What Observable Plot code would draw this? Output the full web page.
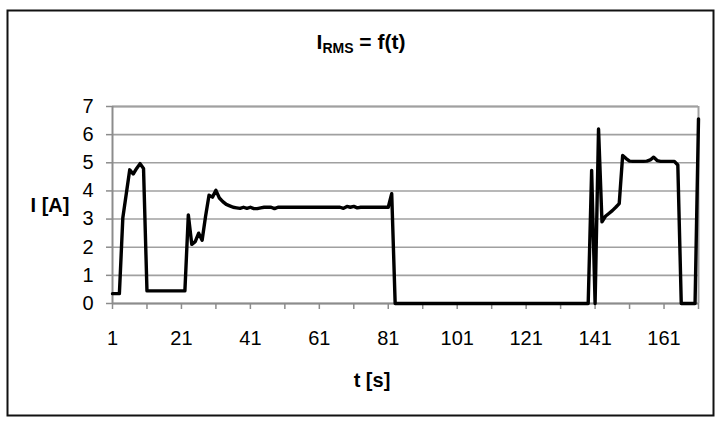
<!DOCTYPE html>
<html>
<head>
<meta charset="utf-8">
<script src="https://cdn.jsdelivr.net/npm/d3@7"></script>
<script src="https://cdn.jsdelivr.net/npm/@observablehq/plot@0.6"></script>
<style>
  html, body { margin: 0; padding: 0; background: #fff; }
  svg { display: block; }
</style>
</head>
<body>
<div id="chart"></div>
<script>
// RMS current I [A] for each sample t = 1 .. 171 s
const current = [
  0.35, 0.35, 0.35, 3.05, 3.9, 4.75, 4.6, 4.8, 4.97, 4.8,
  0.45, 0.45, 0.45, 0.45, 0.45, 0.45, 0.45, 0.45, 0.45, 0.45, 0.45, 0.45,
  3.15, 2.1, 2.2, 2.5, 2.25, 3.1, 3.85, 3.78, 4.02, 3.75, 3.62, 3.52, 3.47, 3.42,
  3.4, 3.38, 3.42, 3.38, 3.42, 3.37, 3.37, 3.4, 3.42, 3.42, 3.42, 3.37,
  3.42, 3.42, 3.42, 3.42, 3.42, 3.42, 3.42, 3.42, 3.42, 3.42,
  3.42, 3.42, 3.42, 3.42, 3.42, 3.42, 3.42, 3.42, 3.42,
  3.38, 3.45, 3.42, 3.45, 3.4,
  3.42, 3.42, 3.42, 3.42, 3.42, 3.42, 3.42, 3.42, 3.42,
  3.9,
  0, 0, 0, 0, 0, 0, 0, 0, 0, 0,
  0, 0, 0, 0, 0, 0, 0, 0, 0, 0,
  0, 0, 0, 0, 0, 0, 0, 0, 0, 0,
  0, 0, 0, 0, 0, 0, 0, 0, 0, 0,
  0, 0, 0, 0, 0, 0, 0, 0, 0, 0,
  0, 0, 0, 0, 0, 0, 0,
  4.73, 0, 6.2, 2.9, 3.1, 3.2, 3.3, 3.42, 3.55,
  5.26, 5.15, 5.06, 5.05, 5.05, 5.05, 5.05, 5.06, 5.1, 5.2, 5.08,
  5.05, 5.05, 5.05, 5.05, 5.05, 4.92,
  0, 0, 0, 0, 0,
  6.56
];
const firstT = 1;
const xTicks = [1, 11, 21, 31, 41, 51, 61, 71, 81, 91, 101, 111, 121, 131, 141, 151, 161, 171];
const xLabels = [1, 21, 41, 61, 81, 101, 121, 141, 161];
const yTicks = [0, 1, 2, 3, 4, 5, 6, 7];
const titleMain = "I";
const titleSub = "RMS";
const titleRest = " = f(t)";
const xTitle = "t [s]";
const yTitle = "I [A]";

const data = current.map((v, i) => ({t: firstT + i, v}));

const W = 721, H = 425;
const chart = Plot.plot({
  width: W,
  height: H,
  marginLeft: 112,
  marginRight: 23,
  marginTop: 106,
  marginBottom: 122,
  x: {domain: [xTicks[0], xTicks[xTicks.length - 1]]},
  y: {domain: [yTicks[0], yTicks[yTicks.length - 1]]},
  style: {fontFamily: "'Liberation Sans', Arial, sans-serif", fontSize: "20px", color: "#000", background: "#fff", overflow: "visible"},
  marks: [
    Plot.gridY(yTicks, {stroke: "#a0a0a0", strokeOpacity: 1, strokeWidth: 1.6}),
    Plot.ruleX([xTicks[xTicks.length - 1]], {stroke: "#a0a0a0", strokeWidth: 2}),
    Plot.ruleY([yTicks[yTicks.length - 1]], {stroke: "#a0a0a0", strokeWidth: 2}),
    Plot.axisY(yTicks, {tickSize: 6, tickPadding: 13, stroke: "#8c8c8c", strokeWidth: 1.5, fill: "#000", fontSize: 20, label: null}),
    Plot.axisX(xTicks, {tickSize: 6, tickPadding: 21, stroke: "#8c8c8c", strokeWidth: 1.5, fill: "#000", fontSize: 20, label: null,
      tickFormat: d => xLabels.includes(d) ? String(d) : ""}),
    Plot.ruleX([xTicks[0]], {stroke: "#8c8c8c", strokeWidth: 2}),
    Plot.ruleY([yTicks[0]], {stroke: "#8c8c8c", strokeWidth: 2}),
    Plot.line(data, {x: "t", y: "v", stroke: "#000", strokeWidth: 3.4, strokeLinejoin: "round"})
  ]
});

const svg = d3.select(chart);
// outer chart border
svg.append("rect")
  .attr("x", 7.5).attr("y", 10.5).attr("width", 706).attr("height", 405)
  .attr("fill", "none").attr("stroke", "#111").attr("stroke-width", 2);

// title with subscript
const title = svg.append("text")
  .attr("x", 361).attr("y", 49)
  .attr("text-anchor", "middle")
  .attr("font-family", "'Liberation Sans', Arial, sans-serif")
  .attr("font-weight", "bold")
  .attr("font-size", 21)
  .attr("fill", "#000");
title.append("tspan").text(titleMain);
title.append("tspan").attr("font-size", 14).attr("dy", 4).text(titleSub);
title.append("tspan").attr("dy", -4).text(titleRest);

svg.append("text")
  .attr("x", 372).attr("y", 387)
  .attr("text-anchor", "middle")
  .attr("font-family", "'Liberation Sans', Arial, sans-serif")
  .attr("font-weight", "bold")
  .attr("font-size", 20)
  .attr("fill", "#000")
  .text(xTitle);

svg.append("text")
  .attr("x", 50).attr("y", 212)
  .attr("text-anchor", "middle")
  .attr("font-family", "'Liberation Sans', Arial, sans-serif")
  .attr("font-weight", "bold")
  .attr("font-size", 20)
  .attr("fill", "#000")
  .text(yTitle);

document.getElementById("chart").appendChild(chart);
</script>
</body>
</html>
